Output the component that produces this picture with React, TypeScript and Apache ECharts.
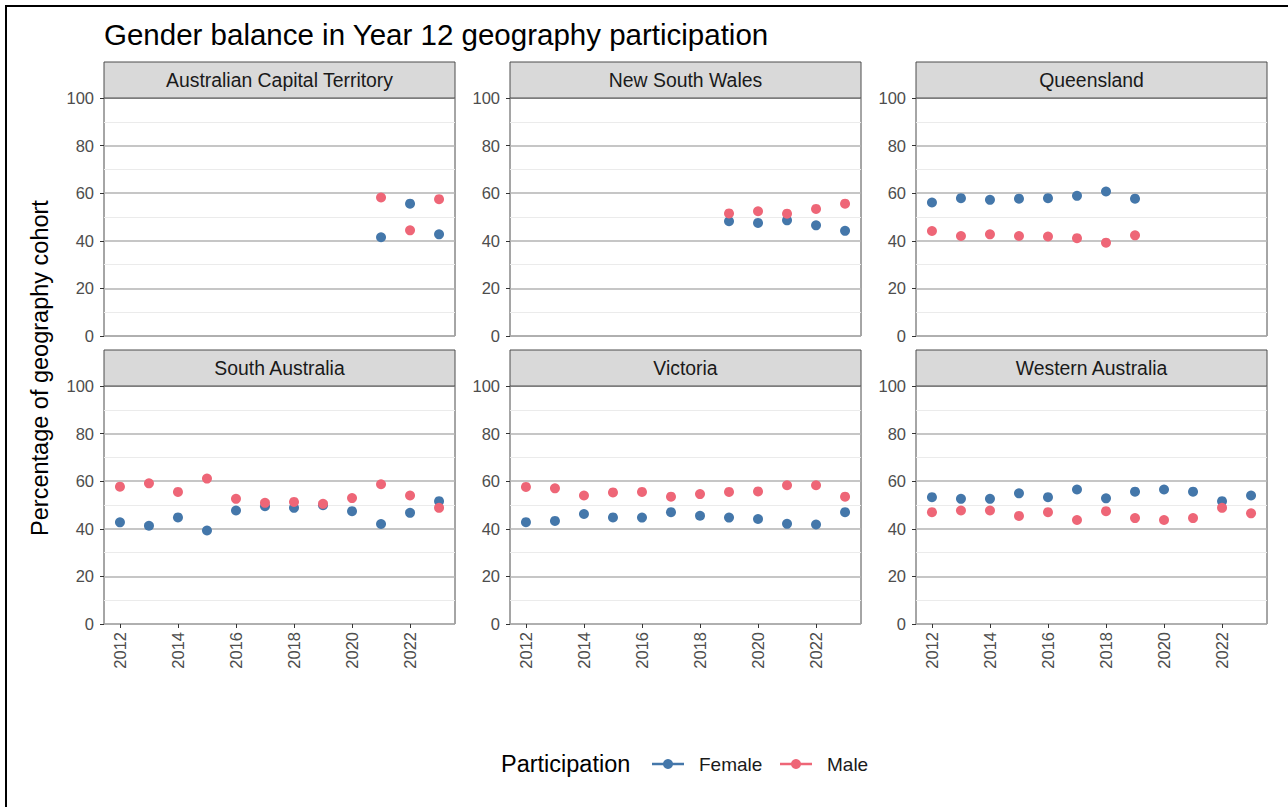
import React, { useEffect, useRef } from "react";
import * as echarts from "echarts";

const panelNames = [
  "Australian Capital Territory",
  "New South Wales",
  "Queensland",
  "South Australia",
  "Victoria",
  "Western Australia",
];

const allYears = [2012, 2013, 2014, 2015, 2016, 2017, 2018, 2019, 2020, 2021, 2022, 2023];
const actYears = [2021, 2022, 2023];
const nswYears = [2019, 2020, 2021, 2022, 2023];
const qldYears = [2012, 2013, 2014, 2015, 2016, 2017, 2018, 2019];

const actFemale = [41.5, 55.6, 42.7];
const actMale = [58.2, 44.4, 57.5];
const nswFemale = [48.2, 47.5, 48.6, 46.5, 44.2];
const nswMale = [51.5, 52.4, 51.4, 53.4, 55.6];
const qldFemale = [56.1, 57.9, 57.2, 57.7, 57.9, 58.9, 60.7, 57.7];
const qldMale = [44.1, 42.0, 42.7, 42.0, 41.8, 41.1, 39.2, 42.3];
const saFemale = [42.7, 41.3, 44.8, 39.3, 47.7, 49.5, 48.8, 49.9, 47.4, 42.0, 46.7, 51.6];
const saMale = [57.7, 59.1, 55.5, 61.1, 52.6, 50.9, 51.3, 50.5, 52.9, 58.7, 54.0, 48.8];
const vicFemale = [42.8, 43.3, 46.2, 44.8, 44.7, 47.0, 45.5, 44.7, 44.1, 42.1, 41.8, 47.0];
const vicMale = [57.6, 57.0, 54.0, 55.3, 55.5, 53.5, 54.6, 55.5, 55.7, 58.3, 58.3, 53.5];
const waFemale = [53.3, 52.6, 52.6, 54.9, 53.3, 56.5, 52.8, 55.6, 56.5, 55.6, 51.6, 54.0];
const waMale = [47.0, 47.7, 47.7, 45.4, 47.0, 43.7, 47.4, 44.5, 43.7, 44.5, 48.8, 46.5];

const xTicks = [2012, 2014, 2016, 2018, 2020, 2022];

const FEMALE = "#4477AA";
const MALE = "#EE6677";
const FONT = "Liberation Sans, Arial, sans-serif";

const panelData = [
  { years: actYears, female: actFemale, male: actMale },
  { years: nswYears, female: nswFemale, male: nswMale },
  { years: qldYears, female: qldFemale, male: qldMale },
  { years: allYears, female: saFemale, male: saMale },
  { years: allYears, female: vicFemale, male: vicMale },
  { years: allYears, female: waFemale, male: waMale },
];

const colLeft = [104, 510, 916];
const colWidth = 351;
const rowTop = [98, 386];
const rowHeight = 238;
const stripH = 36;

export default function App() {
  const ref = useRef<HTMLDivElement>(null);

  useEffect(() => {
    if (!ref.current) return;
    const chart = echarts.init(ref.current, undefined, { renderer: "svg" });

    const grids: any[] = [];
    const xAxes: any[] = [];
    const yAxes: any[] = [];
    const series: any[] = [];
    const graphics: any[] = [];

    panelNames.forEach((name, i) => {
      const c = i % 3;
      const r = Math.floor(i / 3);
      const left = colLeft[c];
      const top = rowTop[r];
      const bottomRow = r === 1;
      grids.push({
        left,
        top,
        width: colWidth,
        height: rowHeight,
        show: true,
        borderColor: "#4d4d4d",
        borderWidth: 1,
        backgroundColor: "#ffffff",
      });
      xAxes.push({
        type: "value",
        gridIndex: i,
        min: 2011.45,
        max: 2023.55,
        axisLine: { show: false },
        splitLine: { show: false },
        axisTick: {
          show: bottomRow,
          customValues: xTicks,
          length: 4,
          lineStyle: { color: "#333333", width: 1 },
        },
        axisLabel: {
          show: bottomRow,
          customValues: xTicks,
          rotate: 90,
          fontSize: 16.5,
          color: "#4d4d4d",
          fontFamily: FONT,
          margin: 8,
          formatter: (v: number) => String(v),
        },
      });
      yAxes.push({
        type: "value",
        gridIndex: i,
        min: 0,
        max: 100,
        interval: 20,
        axisLine: { show: false },
        axisTick: { show: true, length: 4, lineStyle: { color: "#333333", width: 1 } },
        axisLabel: { fontSize: 16.5, color: "#4d4d4d", fontFamily: FONT, margin: 10 },
        splitLine: { show: true, lineStyle: { color: "#b3b3b3", width: 1.5 } },
        minorTick: { show: false, splitNumber: 2 },
        minorSplitLine: { show: true, lineStyle: { color: "#ebebeb", width: 1 } },
      });
      const d = panelData[i];
      series.push({
        type: "scatter",
        name: "Female",
        xAxisIndex: i,
        yAxisIndex: i,
        symbolSize: 10,
        itemStyle: { color: FEMALE, opacity: 1 },
        data: d.years.map((y, k) => [y, d.female[k]]),
        z: 3,
      });
      series.push({
        type: "scatter",
        name: "Male",
        xAxisIndex: i,
        yAxisIndex: i,
        symbolSize: 10,
        itemStyle: { color: MALE, opacity: 1 },
        data: d.years.map((y, k) => [y, d.male[k]]),
        z: 4,
      });
      graphics.push({
        type: "rect",
        shape: { x: left, y: top - stripH, width: colWidth, height: stripH },
        style: { fill: "#d9d9d9", stroke: "#4d4d4d", lineWidth: 1 },
        z: 10,
      });
      graphics.push({
        type: "text",
        x: left + colWidth / 2,
        y: top - stripH / 2,
        style: {
          text: name,
          fontSize: 19.4,
          fontFamily: FONT,
          fill: "#1a1a1a",
          align: "center",
          verticalAlign: "middle",
        },
        z: 11,
      });
    });

    // title
    graphics.push({
      type: "text",
      x: 104,
      y: 34,
      style: {
        text: "Gender balance in Year 12 geography participation",
        fontSize: 29.5,
        fontFamily: FONT,
        fill: "#000000",
        align: "left",
        verticalAlign: "middle",
      },
    });
    // y axis title
    graphics.push({
      type: "text",
      x: 40,
      y: 368,
      rotation: Math.PI / 2,
      style: {
        text: "Percentage of geography cohort",
        fontSize: 23.5,
        fontFamily: FONT,
        fill: "#000000",
        align: "center",
        verticalAlign: "middle",
      },
    });
    // legend
    const ly = 764;
    graphics.push({
      type: "text",
      x: 501,
      y: ly,
      style: { text: "Participation", fontSize: 23.5, fontFamily: FONT, fill: "#000", align: "left", verticalAlign: "middle" },
    });
    const legendItems = [
      { label: "Female", color: FEMALE, x0: 652 },
      { label: "Male", color: MALE, x0: 780 },
    ];
    legendItems.forEach((it) => {
      graphics.push({
        type: "line",
        shape: { x1: it.x0, y1: ly, x2: it.x0 + 32, y2: ly },
        style: { stroke: it.color, lineWidth: 2.5 },
      });
      graphics.push({
        type: "circle",
        shape: { cx: it.x0 + 16, cy: ly, r: 5 },
        style: { fill: it.color },
      });
      graphics.push({
        type: "text",
        x: it.x0 + 47,
        y: ly,
        style: { text: it.label, fontSize: 19, fontFamily: FONT, fill: "#1a1a1a", align: "left", verticalAlign: "middle" },
      });
    });
    // screenshot frame
    graphics.push({
      type: "line",
      shape: { x1: 5, y1: 6, x2: 1288, y2: 6 },
      style: { stroke: "#000", lineWidth: 2 },
    });
    graphics.push({
      type: "line",
      shape: { x1: 6, y1: 5, x2: 6, y2: 807 },
      style: { stroke: "#000", lineWidth: 2 },
    });

    chart.setOption({
      animation: false,
      backgroundColor: "#ffffff",
      grid: grids,
      xAxis: xAxes,
      yAxis: yAxes,
      series,
      graphic: graphics,
    });

    return () => chart.dispose();
  }, []);

  return (
    <div
      ref={ref}
      style={{ position: "fixed", left: 0, top: 0, width: 1288, height: 807 }}
    />
  );
}
